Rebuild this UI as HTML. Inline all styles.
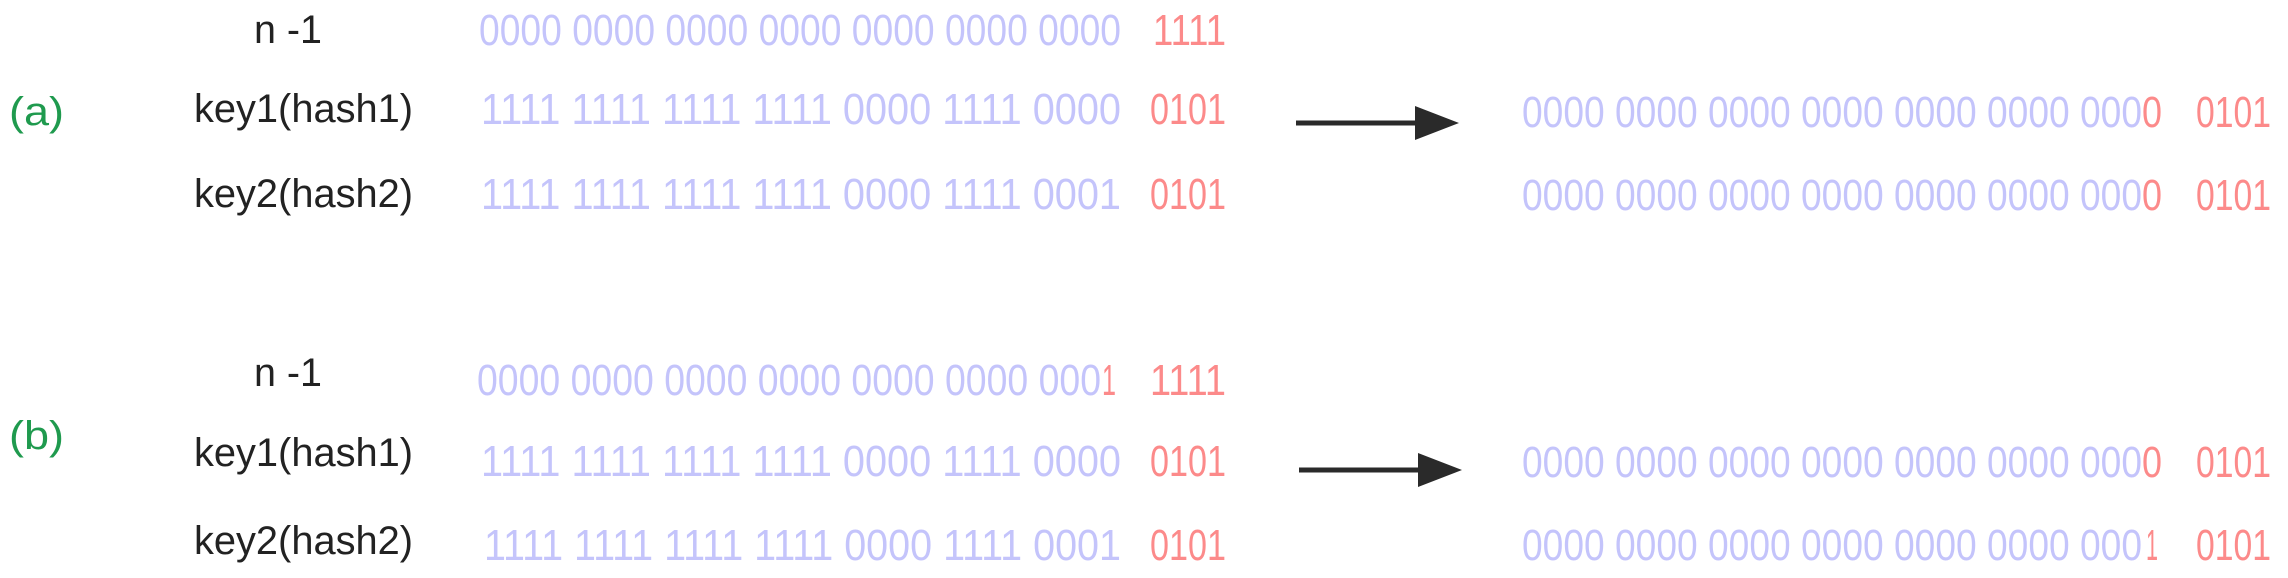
<!DOCTYPE html>
<html><head><meta charset="utf-8"><style>
html,body{margin:0;padding:0;background:#fff;}
svg{display:block;}
text{font-family:"Liberation Sans",sans-serif;font-size:44px;}
.k,.g{font-size:40px;}
.b{fill:#c4c4fb}.r{fill:#fc8a8a}.k{fill:#222}.g{fill:#1f9a4e}
</style></head><body>
<svg width="2288" height="578" viewBox="0 0 2288 578" xmlns="http://www.w3.org/2000/svg">
<!-- (a) -->
<text class="g" x="9" y="125" textLength="55" lengthAdjust="spacingAndGlyphs">(a)</text>
<text class="k" x="254" y="43" textLength="68" lengthAdjust="spacingAndGlyphs">n -1</text>
<text class="b" x="479" y="45" textLength="642" lengthAdjust="spacingAndGlyphs">0000 0000 0000 0000 0000 0000 0000</text>
<text class="r" x="1153" y="45" textLength="73" lengthAdjust="spacingAndGlyphs">1111</text>

<text class="k" x="194" y="122" textLength="219" lengthAdjust="spacingAndGlyphs">key1(hash1)</text>
<text class="b" x="481" y="124" textLength="640" lengthAdjust="spacingAndGlyphs">1111 1111 1111 1111 0000 1111 0000</text>
<text class="r" x="1150" y="124" textLength="76" lengthAdjust="spacingAndGlyphs">0101</text>

<text class="k" x="194" y="207" textLength="219" lengthAdjust="spacingAndGlyphs">key2(hash2)</text>
<text class="b" x="481" y="209" textLength="640" lengthAdjust="spacingAndGlyphs">1111 1111 1111 1111 0000 1111 0001</text>
<text class="r" x="1150" y="209" textLength="76" lengthAdjust="spacingAndGlyphs">0101</text>

<line x1="1296" y1="123" x2="1420" y2="123" stroke="#2a2a2a" stroke-width="5"/>
<polygon points="1415,106 1459,123 1415,140" fill="#2a2a2a"/>

<text class="b" x="1522" y="127" textLength="620" lengthAdjust="spacingAndGlyphs">0000 0000 0000 0000 0000 0000 000</text>
<text class="r" x="2142" y="127" textLength="20" lengthAdjust="spacingAndGlyphs">0</text>
<text class="r" x="2196" y="127" textLength="75" lengthAdjust="spacingAndGlyphs">0101</text>
<text class="b" x="1522" y="210" textLength="620" lengthAdjust="spacingAndGlyphs">0000 0000 0000 0000 0000 0000 000</text>
<text class="r" x="2142" y="210" textLength="20" lengthAdjust="spacingAndGlyphs">0</text>
<text class="r" x="2196" y="210" textLength="75" lengthAdjust="spacingAndGlyphs">0101</text>

<!-- (b) -->
<text class="g" x="9" y="449" textLength="55" lengthAdjust="spacingAndGlyphs">(b)</text>
<text class="k" x="254" y="386" textLength="68" lengthAdjust="spacingAndGlyphs">n -1</text>
<text class="b" x="477" y="395" textLength="624" lengthAdjust="spacingAndGlyphs">0000 0000 0000 0000 0000 0000 000</text>
<text class="r" x="1102" y="395" textLength="14" lengthAdjust="spacingAndGlyphs">1</text>
<text class="r" x="1150" y="395" textLength="76" lengthAdjust="spacingAndGlyphs">1111</text>

<text class="k" x="194" y="466" textLength="219" lengthAdjust="spacingAndGlyphs">key1(hash1)</text>
<text class="b" x="481" y="476" textLength="640" lengthAdjust="spacingAndGlyphs">1111 1111 1111 1111 0000 1111 0000</text>
<text class="r" x="1150" y="476" textLength="76" lengthAdjust="spacingAndGlyphs">0101</text>

<text class="k" x="194" y="554" textLength="219" lengthAdjust="spacingAndGlyphs">key2(hash2)</text>
<text class="b" x="484" y="560" textLength="637" lengthAdjust="spacingAndGlyphs">1111 1111 1111 1111 0000 1111 0001</text>
<text class="r" x="1150" y="560" textLength="76" lengthAdjust="spacingAndGlyphs">0101</text>

<line x1="1299" y1="470" x2="1423" y2="470" stroke="#2a2a2a" stroke-width="5"/>
<polygon points="1418,453 1462,470 1418,487" fill="#2a2a2a"/>

<text class="b" x="1522" y="477" textLength="620" lengthAdjust="spacingAndGlyphs">0000 0000 0000 0000 0000 0000 000</text>
<text class="r" x="2142" y="477" textLength="20" lengthAdjust="spacingAndGlyphs">0</text>
<text class="r" x="2196" y="477" textLength="75" lengthAdjust="spacingAndGlyphs">0101</text>
<text class="b" x="1522" y="560" textLength="620" lengthAdjust="spacingAndGlyphs">0000 0000 0000 0000 0000 0000 000</text>
<text class="r" x="2146" y="560" textLength="12" lengthAdjust="spacingAndGlyphs">1</text>
<text class="r" x="2196" y="560" textLength="75" lengthAdjust="spacingAndGlyphs">0101</text>
</svg>
</body></html>
